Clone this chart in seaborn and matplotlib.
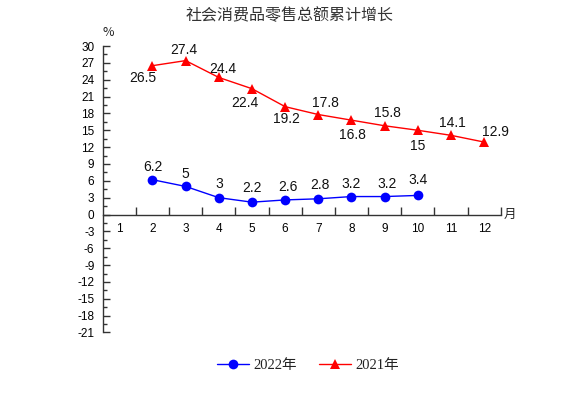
import matplotlib
matplotlib.use("Agg")
import matplotlib.pyplot as plt
from matplotlib.ticker import MultipleLocator, FixedLocator
import seaborn as sns
import pandas as pd

months = list(range(1, 13))
months_2022 = [2, 3, 4, 5, 6, 7, 8, 9, 10]
values_2022 = [6.2, 5, 3, 2.2, 2.6, 2.8, 3.2, 3.2, 3.4]
months_2021 = [2, 3, 4, 5, 6, 7, 8, 9, 10, 11, 12]
values_2021 = [26.5, 27.4, 24.4, 22.4, 19.2, 17.8, 16.8, 15.8, 15, 14.1, 12.9]
labels_2022 = ["6.2", "5", "3", "2.2", "2.6", "2.8", "3.2", "3.2", "3.4"]
labels_2021 = ["26.5", "27.4", "24.4", "22.4", "19.2", "17.8", "16.8", "15.8", "15", "14.1", "12.9"]
series_names = ["2022年", "2021年"]
title = "社会消费品零售总额累计增长"

sns.set_style("ticks")
plt.rcParams['font.family'] = ['Liberation Sans', 'Noto Sans CJK SC', 'DejaVu Sans']

df = pd.concat([
    pd.DataFrame({"month": months_2022, "value": values_2022, "series": series_names[0]}),
    pd.DataFrame({"month": months_2021, "value": values_2021, "series": series_names[1]}),
])

fig = plt.figure(figsize=(5.71, 3.98), dpi=100)
ax = fig.add_axes([0.1799, 0.1646, 0.697, 0.7198])

sns.lineplot(data=df, x="month", y="value", hue="series", style="series",
             palette={series_names[0]: "#0000FF", series_names[1]: "#FF0000"},
             markers={series_names[0]: "o", series_names[1]: "^"},
             dashes=False, markersize=7, markeredgewidth=0, linewidth=1.0,
             ax=ax, legend=True)

ax.set_xlim(0.5, 12.5)
ax.set_ylim(-21, 30)
ax.set_xlabel("")
ax.set_ylabel("")

# spines
for s in ["top", "right"]:
    ax.spines[s].set_visible(False)
ax.spines["bottom"].set_position(("data", 0))
for s in ["left", "bottom"]:
    ax.spines[s].set_color("#333333")
    ax.spines[s].set_linewidth(1.0)

# y ticks
ax.yaxis.set_major_locator(MultipleLocator(3))
ax.yaxis.set_minor_locator(MultipleLocator(1.5))
ax.tick_params(axis="y", which="major", direction="in", length=5, width=1, color="#333333",
               labelsize=8.5, pad=6, labelcolor="#000000")
ax.tick_params(axis="y", which="minor", direction="in", length=3, width=1, color="#333333")
ax.set_yticks(range(-21, 31, 3))
ax.set_yticklabels([str(v) for v in range(-21, 31, 3)])

# x ticks: labels at category centers, tick marks at boundaries
ax.set_xticks(months)
ax.set_xticklabels([str(m) for m in months])
ax.xaxis.set_minor_locator(FixedLocator([m + 0.5 for m in months]))
ax.tick_params(axis="x", which="major", length=0, labelsize=8.5, pad=6, labelcolor="#000000")
ax.tick_params(axis="x", which="minor", direction="in", length=6, width=1, color="#333333")

# data labels
off_2021 = [(-7, -9), (-1, 8), (3, 6), (-5, -10), (1, -9), (5, 8), (1, -11), (2, 9), (0, -11), (1, 9), (8, 7)]
off_2022 = [(0, 9), (0, 9), (0, 10), (0, 10), (2, 9), (1, 10), (0, 9), (2, 9), (0, 11)]
for x, y, t, o in zip(months_2021, values_2021, labels_2021, off_2021):
    ax.annotate(t, (x, y), xytext=o, textcoords="offset points",
                ha="center", va="center", fontsize=10, color="#111111")
for x, y, t, o in zip(months_2022, values_2022, labels_2022, off_2022):
    ax.annotate(t, (x, y), xytext=o, textcoords="offset points",
                ha="center", va="center", fontsize=10, color="#111111")

# unit labels
fig.text(108 / 571, 1 - 32 / 398, "%", ha="center", va="center", fontsize=9,
         family=["Noto Sans CJK SC", "DejaVu Sans"], color="#222222")
fig.text(510 / 571, 1 - 214 / 398, "月", ha="center", va="center", fontsize=9,
         family=["Noto Sans CJK SC", "DejaVu Sans"], color="#222222")

# title
fig.text(290 / 571, 1 - 16 / 398, title, ha="center", va="center", fontsize=11.5,
         family=["Noto Sans CJK SC", "DejaVu Sans"], color="#333333")

# legend
handles, labels = ax.get_legend_handles_labels()
leg = ax.legend(handles, labels, loc="center", bbox_to_anchor=(308 / 571, 1 - 365 / 398),
                bbox_transform=fig.transFigure, ncol=2, frameon=False,
                prop={"family": ["Liberation Serif", "Noto Sans CJK SC"], "size": 10.5},
                handlelength=2.2, columnspacing=1.5, handletextpad=0.3)
for t in leg.get_texts():
    t.set_color("#222222")

fig.savefig("out.png", dpi=100)
